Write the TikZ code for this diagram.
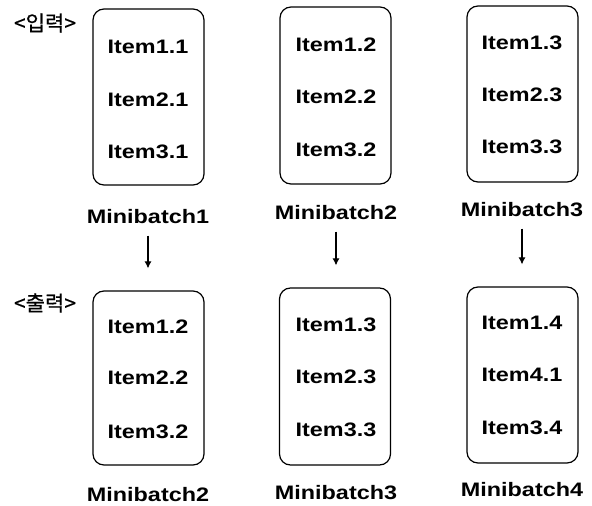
\documentclass[tikz,border=0pt]{standalone}
\usepackage{fontspec}
\setmainfont{Liberation Sans}[FakeStretch=1.2]
\newfontfamily\kofont{Noto Sans CJK KR}[FakeBold=0.6]
\usetikzlibrary{arrows.meta}
\tikzset{
  batchbox/.style={draw, line width=1.2pt, rounded corners=11pt, inner sep=0pt, minimum width=111pt},
  itemtext/.style={font=\fontsize{19.5}{20}\selectfont\bfseries},
  batchlabel/.style={font=\fontsize{19.5}{20}\selectfont\bfseries},
  tagtext/.style={font=\kofont\fontsize{21}{22}\selectfont},
  flow/.style={-{Latex[length=7pt,width=7pt]}, line width=1.1pt, shorten <=8pt, shorten >=22pt}
}
\begin{document}
\begin{tikzpicture}[x=1pt,y=-1pt]
			\useasboundingbox (0,0) rectangle (592,506);
			% 입력
			\node[tagtext] (tagin) at (45,23) {<입력>};
			\node[batchbox, minimum height=176pt] (in1) at (148.5,97) {};
			\node[batchbox, minimum height=177pt] (in2) at (335.5,95.5) {};
			\node[batchbox, minimum height=176pt] (in3) at (522.5,94) {};
			\node[itemtext] (i11) at (148,47) {Item1.1};
			\node[itemtext] (i21) at (148,100) {Item2.1};
			\node[itemtext] (i31) at (148,152) {Item3.1};
			\node[itemtext] (i12) at (336,45) {Item1.2};
			\node[itemtext] (i22) at (336,97) {Item2.2};
			\node[itemtext] (i32) at (336,150) {Item3.2};
			\node[itemtext] (i13) at (522,43) {Item1.3};
			\node[itemtext] (i23) at (522,95) {Item2.3};
			\node[itemtext] (i33) at (522,147) {Item3.3};
			\node[batchlabel] (mbin1) at (148,217) {Minibatch1};
			\node[batchlabel] (mbin2) at (336,213) {Minibatch2};
			\node[batchlabel] (mbin3) at (522,210) {Minibatch3};
			% 출력
			\node[tagtext] (tagout) at (45,303) {<출력>};
			\node[batchbox, minimum height=174pt] (out1) at (148.5,378) {};
			\node[batchbox, minimum height=177pt] (out2) at (335,376.5) {};
			\node[batchbox, minimum height=176pt] (out3) at (522.5,375) {};
			\node[itemtext] (o12) at (148,327) {Item1.2};
			\node[itemtext] (o22) at (148,378) {Item2.2};
			\node[itemtext] (o32) at (148,432) {Item3.2};
			\node[itemtext] (o13) at (336,325) {Item1.3};
			\node[itemtext] (o23) at (336,377) {Item2.3};
			\node[itemtext] (o33) at (336,430) {Item3.3};
			\node[itemtext] (o14) at (522,323) {Item1.4};
			\node[itemtext] (o41) at (522,375) {Item4.1};
			\node[itemtext] (o34) at (522,428) {Item3.4};
			\node[batchlabel] (mbout1) at (148,495) {Minibatch2};
			\node[batchlabel] (mbout2) at (336,493) {Minibatch3};
			\node[batchlabel] (mbout3) at (522,490) {Minibatch4};
			% 화살표
			\draw[flow] (mbin1.south) -- (mbin1.south |- out1.north);
			\draw[flow] (mbin2.south) -- (mbin2.south |- out2.north);
			\draw[flow] (mbin3.south) -- (mbin3.south |- out3.north);
		\end{tikzpicture}
\end{document}
